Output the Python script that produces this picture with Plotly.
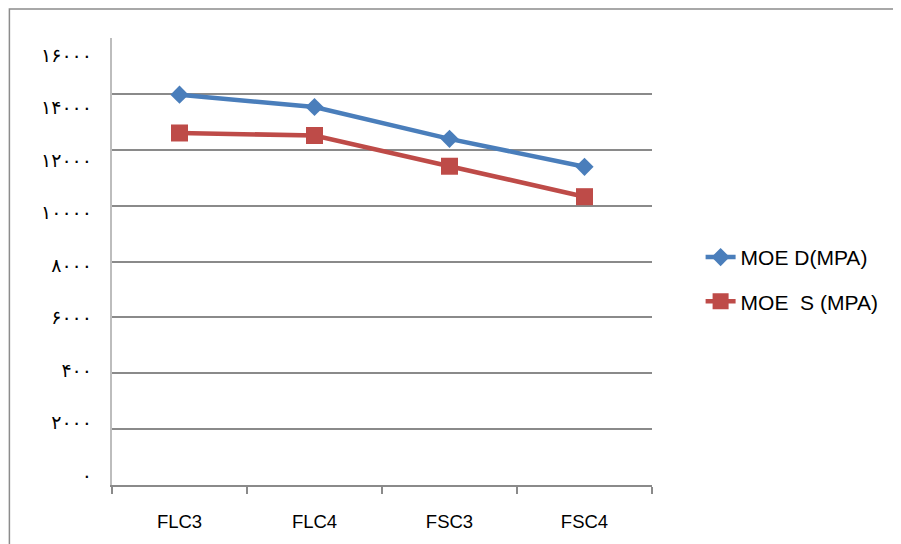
import plotly.graph_objects as go

categories = ["FLC3", "FLC4", "FSC3", "FSC4"]
moe_d = [13970, 13530, 12390, 11390]
moe_s = [12600, 12510, 11410, 10320]
series_names = ["MOE D(MPA)", "MOE  S (MPA)"]
y_tick_values = [0, 2000, 4000, 6000, 8000, 10000, 12000, 14000, 16000]
y_tick_labels = ["۰", "۲۰۰۰", "۴۰۰", "۶۰۰۰", "۸۰۰۰", "۱۰۰۰۰", "۱۲۰۰۰", "۱۴۰۰۰", "۱۶۰۰۰"]

BLUE = "#4A7EBB"
RED = "#BE4B48"
GRID = "#8A8A8A"

fig = go.Figure()
fig.add_trace(go.Scatter(
    x=categories, y=moe_d, name=series_names[0], mode="lines+markers",
    line=dict(color=BLUE, width=4.5),
    marker=dict(symbol="diamond", size=14, color=BLUE),
    legendgroup="a",
))
fig.add_trace(go.Scatter(
    x=categories, y=moe_s, name=series_names[1], mode="lines+markers",
    line=dict(color=RED, width=4.5),
    marker=dict(symbol="square", size=17, color=RED),
    legendgroup="b",
))
# invisible helper trace so the label axis is drawn
fig.add_trace(go.Scatter(
    x=categories[:1], y=[0], yaxis="y2", mode="markers",
    marker=dict(opacity=0), showlegend=False, hoverinfo="skip",
))

fig.update_layout(
    width=893, height=536,
    margin=dict(l=104, r=249, t=30, b=57),
    paper_bgcolor="white", plot_bgcolor="white",
    font=dict(family="Liberation Sans", color="black"),
    showlegend=True,
    legend=dict(
        x=1.09, xanchor="left", y=0.555, yanchor="top",
        font=dict(family="Liberation Sans", size=21, color="black"),
        traceorder="grouped", tracegroupgap=14,
        bgcolor="rgba(0,0,0,0)",
    ),
    xaxis=dict(
        type="category", range=[-0.5, 3.5],
        tickson="boundaries", ticks="outside", ticklen=7, tickcolor=GRID, tickwidth=1.5,
        showline=True, linecolor=GRID, linewidth=1.5,
        showgrid=False, zeroline=False,
        tickfont=dict(family="Liberation Sans", size=18.5, color="black"),
        ticklabelstandoff=19,
    ),
    yaxis=dict(
        range=[0, 16000], tickvals=y_tick_values,
        showticklabels=False, ticks="",
        showgrid=True, gridcolor=GRID, gridwidth=1.5,
        showline=True, linecolor="#BDBDBD", linewidth=1.5,
        zeroline=False,
    ),
    yaxis2=dict(
        overlaying="y", side="left",
        range=[-379, 16645],
        tickvals=y_tick_values, ticktext=y_tick_labels,
        showgrid=False, showline=False, zeroline=False, ticks="",
        tickfont=dict(family="DejaVu Sans", size=19, color="black"),
        ticklabelstandoff=19,
    ),
    shapes=[
        dict(type="rect", xref="paper", yref="paper",
             x0=-0.19, x1=1.6, y0=-0.3, y1=1.0646,
             line=dict(color="#8C8C8C", width=1.5), layer="below"),
    ],
)

fig.write_html("out.html")
